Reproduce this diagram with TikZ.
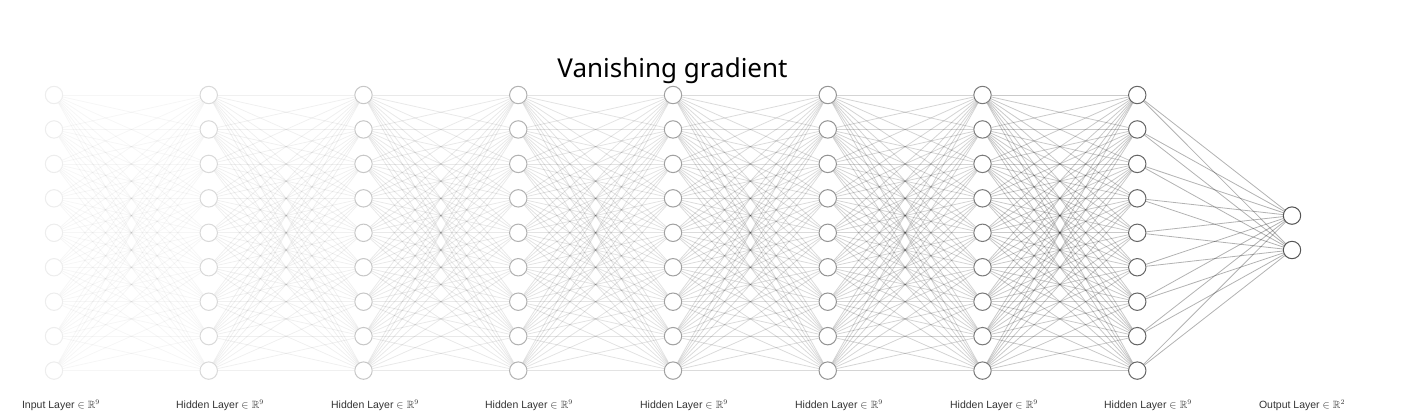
\documentclass[tikz,border=0pt]{standalone}
\usepackage{fontspec}
\usepackage{amssymb}
\setmainfont{Liberation Sans}
\newfontfamily\titlefont{Noto Sans}
\pgfdeclarelayer{background}
\pgfsetlayers{background,main}
\begin{document}
\begin{tikzpicture}[x=1pt,y=-1pt,
  neuron/.style={circle,minimum size=17.4pt,inner sep=0pt,line width=1pt,fill=white},
  edge/.style={line width=0.8pt,draw=black},
  lab/.style={font=\fontsize{10.5}{12}\selectfont,text=black!80,inner sep=0pt}]
\useasboundingbox (0,0) rectangle (1402,415);
\foreach \i/\x/\c in {0/54/7,1/208.75/15,2/363.5/22,3/518.25/30,4/673/37,5/827.75/42,6/982.5/52,7/1137.25/60}{
  \foreach \j in {0,...,8}{
    \node[neuron,draw=black!\c] (n\i-\j) at (\x,95+\j*34.45) {};
  }
}
\node[neuron,draw=black!67] (o-0) at (1292,215.6) {};
\node[neuron,draw=black!67] (o-1) at (1292,250) {};
\begin{pgfonlayer}{background}
\foreach \i/\k/\o in {0/1/0.035,1/2/0.06,2/3/0.085,3/4/0.11,4/5/0.14,5/6/0.17,6/7/0.21}{
  \foreach \a in {0,...,8}{
    \foreach \b in {0,...,8}{
      \draw[edge,draw opacity=\o] (n\i-\a) -- (n\k-\b);
    }
  }
}
\foreach \a in {0,...,8}{
  \foreach \b in {0,1}{
    \draw[edge,draw opacity=0.3] (n7-\a) -- (o-\b);
  }
}
\end{pgfonlayer}
\node[font=\titlefont\fontsize{26}{30}\selectfont] (title) at (672.5,71) {Vanishing gradient};
\node[lab] (l0) at (61,405) {Input Layer $\in\mathbb{R}^9$};
\foreach \i/\x in {1/220,2/375,3/529,4/684,5/839,6/994,7/1148}{
  \node[lab] (l\i) at (\x,405) {Hidden Layer $\in\mathbb{R}^9$};
}
\node[lab] (l8) at (1302,405) {Output Layer $\in\mathbb{R}^2$};
\end{tikzpicture}
\end{document}
